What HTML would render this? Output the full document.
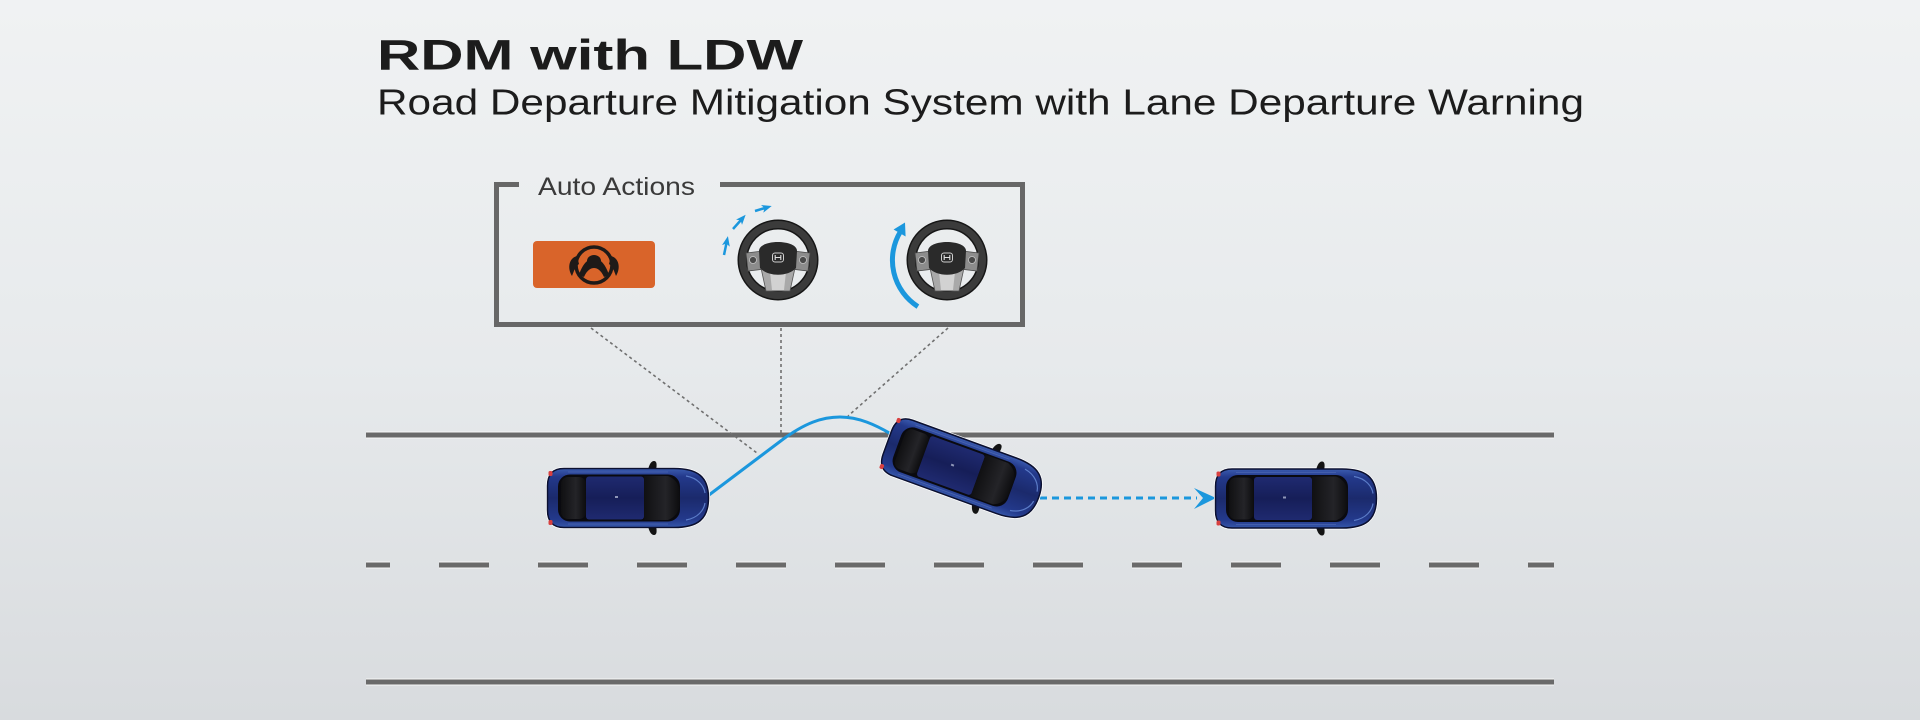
<!DOCTYPE html>
<html>
<head>
<meta charset="utf-8">
<style>
  html,body{margin:0;padding:0;}
  body{width:1920px;height:720px;overflow:hidden;background:#e6e9eb;}
  svg{display:block;}
</style>
</head>
<body>
<svg width="1920" height="720" viewBox="0 0 1920 720" xmlns="http://www.w3.org/2000/svg">
  <defs>
    <linearGradient id="bg" x1="0" y1="0" x2="0" y2="1">
      <stop offset="0" stop-color="#f0f2f3"/>
      <stop offset="0.5" stop-color="#e7eaec"/>
      <stop offset="1" stop-color="#d8dbde"/>
    </linearGradient>
    <linearGradient id="bodyG" x1="0" y1="0" x2="0" y2="1">
      <stop offset="0" stop-color="#3b5cb0"/>
      <stop offset="0.14" stop-color="#23398b"/>
      <stop offset="0.5" stop-color="#1b2a6c"/>
      <stop offset="0.86" stop-color="#23398b"/>
      <stop offset="1" stop-color="#3657aa"/>
    </linearGradient>
    <linearGradient id="glassG" x1="0" y1="0" x2="1" y2="0">
      <stop offset="0" stop-color="#101012"/>
      <stop offset="0.6" stop-color="#242428"/>
      <stop offset="1" stop-color="#0c0c0e"/>
    </linearGradient>
    <linearGradient id="roofG" x1="0" y1="0" x2="0" y2="1">
      <stop offset="0" stop-color="#1f2a70"/>
      <stop offset="0.5" stop-color="#161e58"/>
      <stop offset="1" stop-color="#1f2a70"/>
    </linearGradient>
    <marker id="ah" markerUnits="userSpaceOnUse" markerWidth="12" markerHeight="12" refX="3" refY="4" orient="auto">
      <path d="M0,0 L10,4 L0,8 L2.5,4 Z" fill="#1b97dd"/>
    </marker>

    <g id="car">
      <path d="M -64,-29.5 C -75,-29.5 -80.5,-24 -80.5,-12 L -80.5,12 C -80.5,24 -75,29.5 -64,29.5 L 46,29.5 C 70,29.5 80.5,21 80.5,0 C 80.5,-21 70,-29.5 46,-29.5 Z" fill="#ffffff" stroke="#ffffff" stroke-width="3"/>
      <path d="M 20,-28 C 21,-33 23,-37 26,-37 C 29,-37 29,-33 28,-28 Z" fill="#131313"/>
      <path d="M 20,28 C 21,33 23,37 26,37 C 29,37 29,33 28,28 Z" fill="#131313"/>
      <path d="M -64,-29.5 C -75,-29.5 -80.5,-24 -80.5,-12 L -80.5,12 C -80.5,24 -75,29.5 -64,29.5 L 46,29.5 C 70,29.5 80.5,21 80.5,0 C 80.5,-21 70,-29.5 46,-29.5 Z" fill="url(#bodyG)" stroke="#0b1030" stroke-width="1.5"/>
      <rect x="-70" y="-23.5" width="122" height="47" rx="12" fill="#0a0a0f"/>
      <rect x="-67" y="-21" width="25" height="42" rx="7" fill="url(#glassG)"/>
      <rect x="-42" y="-21.5" width="58" height="43" rx="3" fill="url(#roofG)"/>
      <path d="M 16,-22 L 40,-22 C 50,-18 52,-10 52,0 C 52,10 50,18 40,22 L 16,22 Z" fill="url(#glassG)"/>
      <path d="M 58,-22 C 70,-20 76,-12 77,-5" stroke="#5b7cc8" stroke-width="1.2" fill="none"/>
      <path d="M 58,22 C 70,20 76,12 77,5" stroke="#5b7cc8" stroke-width="1.2" fill="none"/>
      <path d="M -60,-26 L 40,-26" stroke="#4a64b0" stroke-width="0.8"/>
      <path d="M -60,26 L 40,26" stroke="#4a64b0" stroke-width="0.8"/>
      <rect x="-79.5" y="-27" width="4" height="5" rx="1.5" fill="#d84040"/>
      <rect x="-79.5" y="22" width="4" height="5" rx="1.5" fill="#d84040"/>
      <rect x="-13" y="-2" width="3" height="2" fill="#8f97b8"/>
    </g>

    <g id="wheel">
      <circle r="35.5" fill="none" stroke="#161616" stroke-width="10"/>
      <circle r="35.5" fill="none" stroke="#3b3b3b" stroke-width="7"/>
      <path d="M -32,-7 L -15,-9 L -13,9 L -30,11 Z" fill="#8c8c8c" stroke="#4a4a4a" stroke-width="0.8"/>
      <path d="M 32,-7 L 15,-9 L 13,9 L 30,11 Z" fill="#8c8c8c" stroke="#4a4a4a" stroke-width="0.8"/>
      <path d="M -17,8 L 17,8 L 12,31 L -12,31 Z" fill="#a9a9a9" stroke="#555" stroke-width="0.8"/>
      <path d="M -8,12 L 8,12 L 6,30 L -6,30 Z" fill="#d2d2d2"/>
      <path d="M -19,-9 C -19,-21 19,-21 19,-9 L 18,8 C 10,17 -10,17 -18,8 Z" fill="#2a2a2a"/>
      <circle cx="-25" cy="0" r="3.5" fill="#4a4a4a" stroke="#c4c4c4" stroke-width="0.8"/>
      <circle cx="25" cy="0" r="3.5" fill="#4a4a4a" stroke="#c4c4c4" stroke-width="0.8"/>
      <rect x="-5.5" y="-7" width="11" height="9" rx="2.5" fill="none" stroke="#cfcfcf" stroke-width="1"/>
      <path d="M -2.8,-5 L -2.8,0 M 2.8,-5 L 2.8,0 M -2.8,-2.5 L 2.8,-2.5" stroke="#e0e0e0" stroke-width="1.1"/>
    </g>
  </defs>

  <rect x="0" y="0" width="1920" height="720" fill="url(#bg)"/>

  <!-- Title -->
  <text x="377" y="69.5" font-family="Liberation Sans, Arial, sans-serif" font-weight="bold" font-size="43" fill="#1c1c1c" textLength="426" lengthAdjust="spacingAndGlyphs">RDM with LDW</text>
  <text x="377" y="114.5" font-family="Liberation Sans, Arial, sans-serif" font-size="36" fill="#1c1c1c" textLength="1207" lengthAdjust="spacingAndGlyphs">Road Departure Mitigation System with Lane Departure Warning</text>

  <!-- Road lines -->
  <g stroke-linecap="butt">
    <line x1="366" y1="435" x2="1554" y2="435" stroke="#f7f7f7" stroke-width="7"/>
    <line x1="366" y1="435" x2="1554" y2="435" stroke="#6a6a6a" stroke-width="5"/>
    <line x1="366" y1="565" x2="1554" y2="565" stroke="#f7f7f7" stroke-width="7" stroke-dasharray="50 49" stroke-dashoffset="26"/>
    <line x1="366" y1="565" x2="1554" y2="565" stroke="#6a6a6a" stroke-width="5" stroke-dasharray="50 49" stroke-dashoffset="26"/>
    <line x1="366" y1="682" x2="1554" y2="682" stroke="#f7f7f7" stroke-width="7"/>
    <line x1="366" y1="682" x2="1554" y2="682" stroke="#6a6a6a" stroke-width="5"/>
  </g>

  <!-- Dotted leader lines -->
  <g stroke="#707070" stroke-width="1.6" stroke-dasharray="3 3" fill="none">
    <line x1="591" y1="328" x2="757" y2="453"/>
    <line x1="781" y1="328" x2="781" y2="437"/>
    <line x1="948" y1="328" x2="848" y2="416"/>
  </g>

  <!-- Blue trajectory -->
  <path d="M 705,498 L 782,440 C 805,423 822,417 840,417 C 858,417 875,424 896,437" fill="none" stroke="#1b97dd" stroke-width="3"/>
  <line x1="1040" y1="498" x2="1197" y2="498" stroke="#1b97dd" stroke-width="3" stroke-dasharray="7 5"/>
  <path d="M 1216,498 L 1194,488 L 1203,498 L 1194,509 Z" fill="#1b97dd"/>

  <!-- Cars -->
  <use href="#car" transform="translate(628,498)"/>
  <use href="#car" transform="translate(963,470) rotate(20)"/>
  <use href="#car" transform="translate(1296,498.5)"/>

  <!-- Auto Actions box -->
  <g fill="none" stroke="#676767" stroke-width="5">
    <path d="M 519,184.5 L 496.5,184.5 L 496.5,324.5 L 1022.5,324.5 L 1022.5,184.5 L 720,184.5"/>
  </g>
  <text x="538" y="195" font-family="Liberation Sans, Arial, sans-serif" font-size="25" fill="#3a3a3a" textLength="157" lengthAdjust="spacingAndGlyphs">Auto Actions</text>

  <!-- Orange warning button -->
  <rect x="533" y="241" width="122" height="47" rx="4" fill="#d9642a"/>
  <g transform="translate(594,265)" fill="#1e1a18">
    <circle r="18" fill="none" stroke="#1e1a18" stroke-width="3.5"/>
    <path d="M -17,-9 C -25,-7 -27,3 -22,11 C -20,6 -19,2 -15,-1 Z"/>
    <path d="M 17,-9 C 25,-7 27,3 22,11 C 20,6 19,2 15,-1 Z"/>
    <path d="M -15,10 C -11,-3 -4,-7 0,-7 C 4,-7 11,-3 15,10 L 10,12 C 7,5 3,3 0,3 C -3,3 -7,5 -10,12 Z"/>
    <ellipse cx="0" cy="-4" rx="7" ry="6"/>
  </g>

  <!-- Steering wheel 1 with small arrows -->
  <use href="#wheel" transform="translate(778,260)"/>
  <g stroke="#1b97dd" stroke-width="2.5" fill="none">
    <line x1="724" y1="255" x2="726.5" y2="243" marker-end="url(#ah)"/>
    <line x1="733" y1="229" x2="741" y2="220" marker-end="url(#ah)"/>
    <line x1="755" y1="211" x2="765" y2="208" marker-end="url(#ah)"/>
  </g>

  <!-- Steering wheel 2 with big arc arrow -->
  <use href="#wheel" transform="translate(947,260)"/>
  <path d="M 917.9,306.6 A 55 55 0 0 1 900.5,231.5" fill="none" stroke="#1b97dd" stroke-width="5"/>
  <path d="M 905,222.5 L 905.6,236.5 L 893.6,229.5 Z" fill="#1b97dd"/>
</svg>
</body>
</html>
